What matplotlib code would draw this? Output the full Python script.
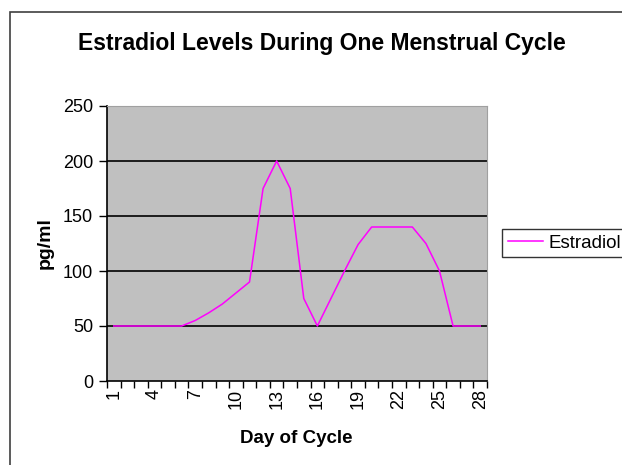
import matplotlib.pyplot as plt
from matplotlib.patches import Rectangle

# Datos
dias = list(range(1, 29))
estradiol = [50, 50, 50, 50, 50, 50, 55, 62, 70, 80, 90, 175, 200, 175,
             75, 50, 75, 100, 124, 140, 140, 140, 140, 125, 100, 50, 50, 50]
etiquetas_x = [1, 4, 7, 10, 13, 16, 19, 22, 25, 28]
ticks_y = [0, 50, 100, 150, 200, 250]

plt.rcParams['font.family'] = ['Liberation Sans', 'DejaVu Sans']

fig = plt.figure(figsize=(6.22, 4.65), dpi=100)
fig.patch.set_facecolor('white')

# borde del área del gráfico (se sale por la derecha y por abajo)
fig.patches.append(Rectangle((10 / 622, -0.1), 1.2, 1 - 12 / 465 + 0.1,
                             transform=fig.transFigure, fill=False,
                             edgecolor='#404040', linewidth=1.2))

ax = fig.add_axes([107 / 622, 1 - 381 / 465, 380 / 622, 275 / 465])
ax.set_facecolor('#C0C0C0')

ax.plot(dias, estradiol, color='#FF00FF', linewidth=1.1, label='Estradiol')

for y in ticks_y[1:-1]:
    ax.axhline(y, color='black', linewidth=1.2, zorder=1)

ax.set_xlim(0.5, 28.5)
ax.set_ylim(0, 250)
ax.set_yticks(ticks_y)
ax.set_xticks(etiquetas_x)
ax.set_xticklabels([str(d) for d in etiquetas_x], rotation=90)
ax.set_xticks([d + 0.5 for d in range(0, 29)], minor=True)
ax.tick_params(axis='x', which='major', length=0, pad=6, labelsize=13)
ax.tick_params(axis='x', which='minor', length=5, width=1, direction='out')
ax.tick_params(axis='y', length=6, width=1, direction='out', pad=4, labelsize=13)

for lado in ['top', 'right']:
    ax.spines[lado].set_color('#A0A0A0')
for lado in ['left', 'bottom']:
    ax.spines[lado].set_color('black')
    ax.spines[lado].set_linewidth(1.2)

fig.text(322 / 622, 1 - 43 / 465, 'Estradiol Levels During One Menstrual Cycle',
         ha='center', va='center', fontsize=16.5, fontweight='bold')
fig.text(296 / 622, 1 - 438 / 465, 'Day of Cycle', ha='center', va='center',
         fontsize=13.5, fontweight='bold')
fig.text(45 / 622, 1 - 243 / 465, 'pg/ml', ha='center', va='center',
         fontsize=14, fontweight='bold', rotation=90)

leg = ax.legend(loc='upper left', bbox_to_anchor=(502 / 622, 1 - 229 / 465),
                bbox_transform=fig.transFigure, frameon=True, fancybox=False,
                fontsize=13.5, handlelength=1.9, borderpad=0.3, handletextpad=0.3,
                borderaxespad=0)
leg.get_frame().set_edgecolor('black')
leg.get_frame().set_linewidth(1)

plt.savefig('out.png', dpi=100)
